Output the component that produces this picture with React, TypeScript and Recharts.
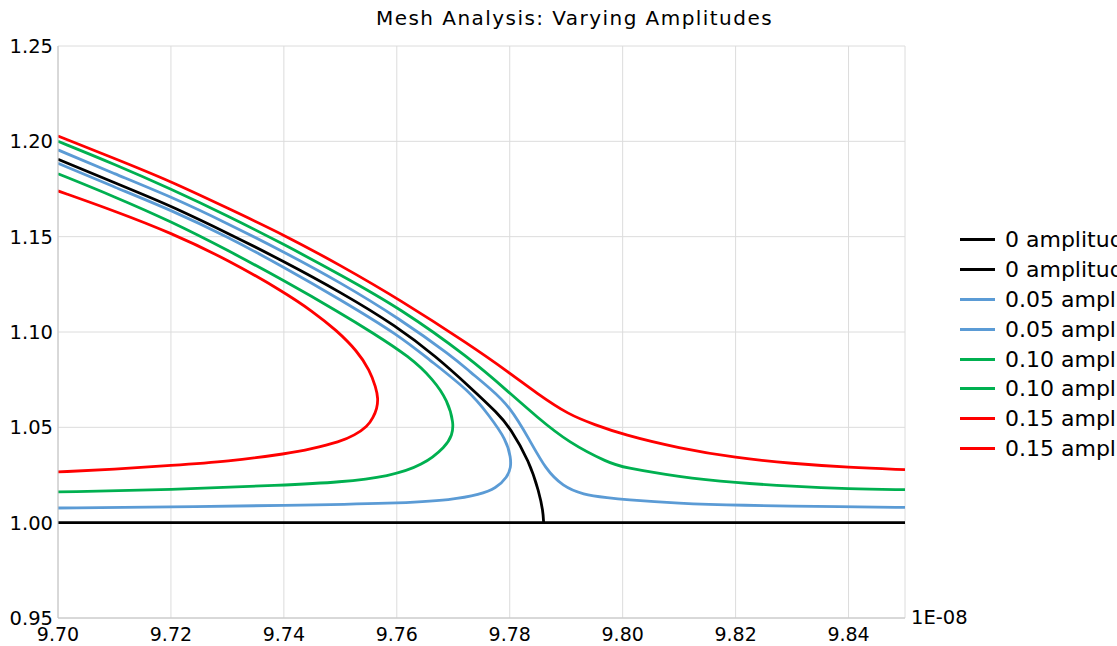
import React from 'react';
import { LineChart, Line, XAxis, YAxis, CartesianGrid, Label } from 'recharts';

// x values are in units of 1E-08
const xTicks = [9.7, 9.72, 9.74, 9.76, 9.78, 9.8, 9.82, 9.84];
const yTicks = [0.95, 1.0, 1.05, 1.1, 1.15, 1.2, 1.25];

// 0 amplitude
const amp0UpperX = [9.7, 9.716, 9.72, 9.73, 9.74, 9.75, 9.76, 9.767, 9.773, 9.778, 9.78, 9.7835, 9.7852, 9.7859, 9.786];
const amp0UpperY = [1.1906, 1.171, 1.166, 1.152, 1.137, 1.121, 1.103, 1.087, 1.071, 1.057, 1.05, 1.032, 1.016, 1.006, 1.0];
const amp0LowerX = [9.7, 9.85];
const amp0LowerY = [1.0, 1.0];

// 0.05 amplitude
const amp05OuterX = [9.7, 9.71, 9.72, 9.73, 9.74, 9.75, 9.7605, 9.7699, 9.7729, 9.7765, 9.78, 9.7835, 9.7864, 9.7894, 9.7929, 9.7976, 9.8, 9.81, 9.82, 9.84, 9.85];
const amp05OuterY = [1.1955, 1.183, 1.171, 1.157, 1.142, 1.126, 1.107, 1.087, 1.0793, 1.0705, 1.061, 1.0435, 1.0278, 1.0191, 1.0147, 1.013, 1.0122, 1.0101, 1.0091, 1.0083, 1.008];
const amp05InnerX = [9.7, 9.71, 9.72, 9.73, 9.74, 9.75, 9.7605, 9.7655, 9.7729, 9.7764, 9.7794, 9.7802, 9.7802, 9.7796, 9.7776, 9.7746, 9.77, 9.76, 9.74, 9.72, 9.7];
const amp05InnerY = [1.1885, 1.176, 1.164, 1.15, 1.134, 1.117, 1.098, 1.086, 1.069, 1.056, 1.0435, 1.034, 1.029, 1.024, 1.018, 1.0147, 1.012, 1.0101, 1.009, 1.0083, 1.0077];

// 0.10 amplitude
const amp10OuterX = [9.7, 9.71, 9.72, 9.73, 9.74, 9.75, 9.7605, 9.7729, 9.78, 9.7847, 9.7905, 9.7976, 9.8, 9.81, 9.82, 9.83, 9.84, 9.85];
const amp10OuterY = [1.2, 1.188, 1.175, 1.161, 1.146, 1.13, 1.1126, 1.0864, 1.068, 1.0557, 1.0418, 1.0313, 1.029, 1.024, 1.021, 1.019, 1.0177, 1.0173];
const amp10InnerX = [9.7, 9.71, 9.72, 9.73, 9.74, 9.75, 9.7555, 9.7623, 9.7665, 9.769, 9.7701, 9.7698, 9.7687, 9.7646, 9.7587, 9.75, 9.74, 9.72, 9.7];
const amp10InnerY = [1.183, 1.171, 1.158, 1.143, 1.127, 1.11, 1.1, 1.087, 1.075, 1.064, 1.052, 1.046, 1.04, 1.03, 1.0243, 1.0212, 1.0197, 1.0173, 1.0161];

// 0.15 amplitude
const amp15OuterX = [9.7, 9.71, 9.72, 9.73, 9.74, 9.75, 9.7605, 9.7729, 9.78, 9.7847, 9.7905, 9.795, 9.8, 9.81, 9.82, 9.83, 9.84, 9.85];
const amp15OuterY = [1.2028, 1.191, 1.179, 1.165, 1.151, 1.135, 1.117, 1.0933, 1.0785, 1.068, 1.0565, 1.0515, 1.0462, 1.039, 1.034, 1.031, 1.029, 1.0278];
const amp15InnerX = [9.7, 9.71, 9.72, 9.73, 9.74, 9.745, 9.7493, 9.753, 9.7552, 9.7563, 9.7567, 9.7565, 9.7558, 9.7548, 9.7525, 9.75, 9.7446, 9.741, 9.73, 9.72, 9.71, 9.7];
const amp15InnerY = [1.174, 1.1635, 1.152, 1.138, 1.121, 1.111, 1.101, 1.09, 1.08, 1.071, 1.065, 1.06, 1.055, 1.0505, 1.0458, 1.0425, 1.0385, 1.0364, 1.032, 1.03, 1.028, 1.0266];

const toPoints = (xs: number[], ys: number[]) => xs.map((x, i) => ({ x, y: ys[i] }));

const series = [
  { name: '0 amplitude', color: '#000000', data: toPoints(amp0UpperX, amp0UpperY) },
  { name: '0 amplitude', color: '#000000', data: toPoints(amp0LowerX, amp0LowerY) },
  { name: '0.05 amplitude', color: '#5b9bd5', data: toPoints(amp05InnerX, amp05InnerY) },
  { name: '0.05 amplitude', color: '#5b9bd5', data: toPoints(amp05OuterX, amp05OuterY) },
  { name: '0.10 amplitude', color: '#00b050', data: toPoints(amp10InnerX, amp10InnerY) },
  { name: '0.10 amplitude', color: '#00b050', data: toPoints(amp10OuterX, amp10OuterY) },
  { name: '0.15 amplitude', color: '#ff0000', data: toPoints(amp15InnerX, amp15InnerY) },
  { name: '0.15 amplitude', color: '#ff0000', data: toPoints(amp15OuterX, amp15OuterY) },
];

const font = '"DejaVu Sans", Verdana, sans-serif';
const fmt = (v: number) => v.toFixed(2);

const App: React.FC = () => {
  // black drawn last so it sits on top
  const drawOrder = [2, 3, 4, 5, 6, 7, 0, 1];
  return (
    <div style={{ position: 'absolute', left: 0, top: 0, width: 1117, height: 646, overflow: 'hidden', background: '#fff', fontFamily: font }}>
      <div style={{ position: 'absolute', left: 376, top: 5, fontSize: 20, letterSpacing: 1.45, lineHeight: '26px', color: '#000', whiteSpace: 'nowrap' }}>
        Mesh Analysis: Varying Amplitudes
      </div>
      <LineChart width={1117} height={646} margin={{ top: 46, right: 212, bottom: 0, left: 0 }}>
        <CartesianGrid stroke="#dcdcdc" strokeWidth={1} />
        <XAxis
          dataKey="x"
          type="number"
          domain={[9.7, 9.85]}
          ticks={xTicks}
          tickFormatter={fmt}
          allowDataOverflow
          height={28}
          stroke="#c4c4c4"
          tickLine={false}
          tickSize={0}
          tickMargin={10}
          tick={{ fill: '#000', fontSize: 19, fontFamily: font }}
        >
          <Label value="1E-08" position="right" offset={6} dy={-15} fill="#000" fontSize={19.5} fontFamily={font} />
        </XAxis>
        <YAxis
          type="number"
          domain={[0.95, 1.25]}
          ticks={yTicks}
          tickFormatter={fmt}
          allowDataOverflow
          width={58}
          stroke="#c4c4c4"
          tickLine={false}
          tickSize={0}
          tickMargin={5}
          tick={{ fill: '#000', fontSize: 19.5, fontFamily: font }}
        />
        {drawOrder.map((i) => (
          <Line
            key={i}
            data={series[i].data}
            dataKey="y"
            name={series[i].name}
            type={series[i].data.length > 2 ? 'basis' : 'linear'}
            stroke={series[i].color}
            strokeWidth={2.8}
            dot={false}
            activeDot={false}
            isAnimationActive={false}
          />
        ))}
      </LineChart>
      <div style={{ position: 'absolute', left: 960, top: 225, color: '#000', fontSize: 22, whiteSpace: 'nowrap' }}>
        {series.map((s, i) => (
          <div key={i} style={{ display: 'flex', alignItems: 'center', height: 29.8 }}>
            <div style={{ width: 35, height: 3, background: s.color, marginRight: 10, flexShrink: 0 }} />
            <span>{s.name}</span>
          </div>
        ))}
      </div>
    </div>
  );
};

export default App;
